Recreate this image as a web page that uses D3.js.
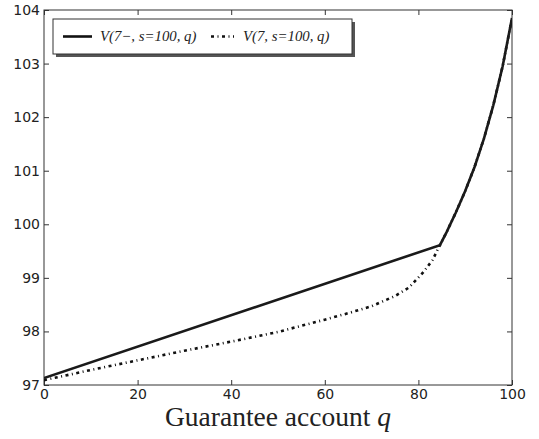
<!DOCTYPE html>
<html>
<head>
<meta charset="utf-8">
<script src="https://cdn.jsdelivr.net/npm/d3@7"></script>
<style>
  body { margin: 0; background: #fff; }
  svg { display: block; }
  .tick text { font-family: "DejaVu Sans", sans-serif; font-size: 14px; fill: #222; }
</style>
</head>
<body>
<svg id="chart" width="539" height="439"></svg>
<script>
// values
var qLeft = [0, 84.6];
var vBefore = [97.13, 99.61];               // V(7-, s=100, q), straight up to the kink

var qDot = [0, 10, 20, 30, 40, 50, 60, 65, 70, 75, 78, 81, 83, 84.6];
var vAfter = [97.09, 97.28, 97.46, 97.64, 97.81, 97.99, 98.22, 98.34, 98.47, 98.66, 98.82, 99.10, 99.33, 99.61];

// both curves share this branch past the kink
var qRight = [84.6, 86, 88, 90, 92, 94, 96, 98, 100];
var vRight = [99.61, 99.85, 100.22, 100.62, 101.07, 101.6, 102.22, 102.95, 103.85];

var xTicks = [0, 20, 40, 60, 80, 100];
var yTicks = [97, 98, 99, 100, 101, 102, 103, 104];

var legendLabels = ["V(7\u2212, s=100, q)", "V(7, s=100, q)"];

var svg = d3.select("#chart");
// note: "top" is taken by window.top, so use plot* names
var plotL = 44, plotR = 512, plotT = 10, plotB = 385;

var x = d3.scaleLinear().domain([0, 100]).range([plotL, plotR]);
var y = d3.scaleLinear().domain([97, 104]).range([plotB, plotT]);

var spine = "#333";

// axes, matplotlib style ticks pointing inward
svg.append("g")
    .attr("transform", "translate(0," + plotB + ")")
    .call(d3.axisBottom(x).tickValues(xTicks).tickFormat(d3.format("d"))
        .tickSizeInner(-5).tickSizeOuter(0).tickPadding(4))
    .call(g => g.select(".domain").remove());
svg.append("g")
    .attr("transform", "translate(" + plotL + ",0)")
    .call(d3.axisLeft(y).tickValues(yTicks).tickFormat(d3.format("d"))
        .tickSizeInner(-5).tickSizeOuter(0).tickPadding(4))
    .call(g => g.select(".domain").remove());
svg.append("g")
    .attr("transform", "translate(0," + plotT + ")")
    .call(d3.axisTop(x).tickValues(xTicks).tickSizeInner(-5).tickSizeOuter(0).tickFormat(""))
    .call(g => g.select(".domain").remove());
svg.append("g")
    .attr("transform", "translate(" + plotR + ",0)")
    .call(d3.axisRight(y).tickValues(yTicks).tickSizeInner(-5).tickSizeOuter(0).tickFormat(""))
    .call(g => g.select(".domain").remove());
svg.selectAll(".tick line").attr("stroke", spine);

svg.append("rect")
    .attr("x", plotL).attr("y", plotT)
    .attr("width", plotR - plotL).attr("height", plotB - plotT)
    .attr("fill", "none").attr("stroke", spine).attr("stroke-width", 1);

var line = d3.line().x(d => x(d[0])).y(d => y(d[1]));

var solidPts = d3.zip(qLeft, vBefore).concat(d3.zip(qRight, vRight).slice(1));
var dotPts = d3.zip(qDot, vAfter).concat(d3.zip(qRight, vRight).slice(1));

svg.append("clipPath").attr("id", "clip")
    .append("rect").attr("x", plotL).attr("y", plotT).attr("width", plotR - plotL).attr("height", plotB - plotT);

svg.append("path")
    .datum(dotPts)
    .attr("d", line)
    .attr("clip-path", "url(#clip)")
    .attr("fill", "none")
    .attr("stroke", "#111")
    .attr("stroke-width", 2.6)
    .attr("stroke-dasharray", "3,3.5,1,3.5");

svg.append("path")
    .datum(solidPts)
    .attr("d", line)
    .attr("clip-path", "url(#clip)")
    .attr("fill", "none")
    .attr("stroke", "#1a1a1a")
    .attr("stroke-width", 2.6);

// legend
var lg = svg.append("g");
lg.append("rect").attr("x", 56).attr("y", 22).attr("width", 299).attr("height", 35).attr("fill", "#555");
lg.append("rect").attr("x", 53).attr("y", 19).attr("width", 299).attr("height", 35)
    .attr("fill", "#fff").attr("stroke", "#333").attr("stroke-width", 1);

var items = [
    {x0: 63, x1: 92, tx: 100, dash: null},
    {x0: 211, x1: 234, tx: 243, dash: "3,3.5,1,3.5"}
];
items.forEach(function(it, i) {
    var l = lg.append("line")
        .attr("x1", it.x0).attr("x2", it.x1).attr("y1", 36.5).attr("y2", 36.5)
        .attr("stroke", "#111").attr("stroke-width", 2.6);
    if (it.dash) l.attr("stroke-dasharray", it.dash);
    lg.append("text")
        .attr("x", it.tx).attr("y", 41)
        .attr("font-family", "'Liberation Serif', 'Times New Roman', serif")
        .attr("font-style", "italic")
        .attr("font-size", "14.8px")
        .attr("fill", "#222")
        .text(legendLabels[i]);
});

// x axis title
var xt = svg.append("text")
    .attr("x", (plotL + plotR) / 2).attr("y", 426)
    .attr("text-anchor", "middle")
    .attr("font-family", "'Liberation Serif', 'Times New Roman', serif")
    .attr("font-size", "27.5px")
    .attr("fill", "#222");
xt.append("tspan").text("Guarantee account ");
xt.append("tspan").attr("font-style", "italic").text("q");
</script>
</body>
</html>
